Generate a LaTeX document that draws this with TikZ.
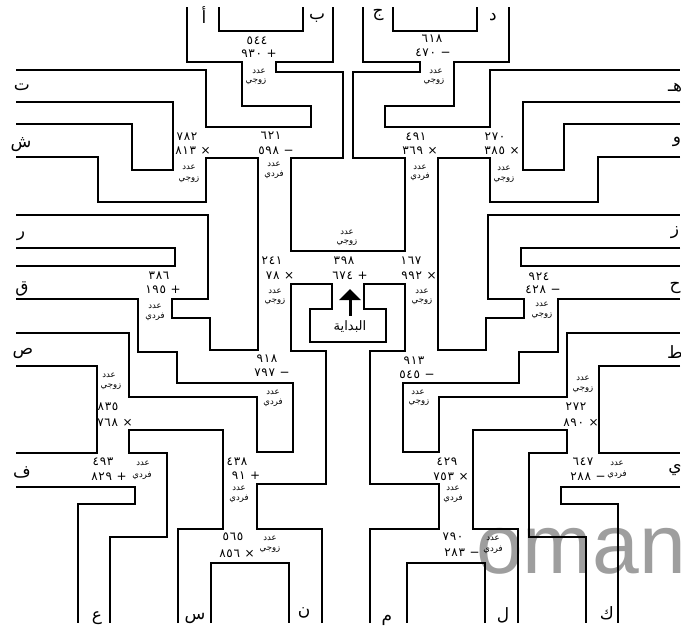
\documentclass[tikz,border=0pt]{standalone}
\usepackage{fontspec}
\usetikzlibrary{arrows.meta}
\TeXXeTstate=1
\newfontfamily\arabicfont[Script=Arabic]{DejaVu Sans}
\newfontfamily\digitfont[LetterSpace=6]{DejaVu Sans}
\newfontfamily\markfont{Liberation Sans}
\tikzset{
  wall/.style={line width=2.4pt},
  num/.style={font=\digitfont\fontsize{12}{14}\selectfont, inner sep=0pt},
  word/.style={font=\arabicfont\fontsize{8.5}{10}\selectfont, inner sep=0pt},
  letter/.style={font=\arabicfont\fontsize{17}{19}\selectfont, inner sep=0pt},
  startarrow/.style={line width=3pt, -{Triangle[width=21pt,length=11pt]}}
}
\begin{document}
\begin{tikzpicture}[x=1pt,y=-1pt]
  \useasboundingbox (0,0) rectangle (681,632);
  \node[font=\markfont\fontsize{84}{90}\selectfont, text=black!38, anchor=base west, inner sep=0pt] (mark) at (476,573) {oman};
  % maze walls, left half and its mirror image
  \foreach \s/\b in {1/322,-1/326} {
    \begin{scope}[shift={(348,0)}, xscale=\s, shift={(-348,0)}]
      \draw[wall] (187,7) -- (187,62) -- (242,62) -- (242,106) -- (311,106) -- (311,127) -- (206,127) -- (206,70) -- (16,70);
      \draw[wall] (219,7) -- (219,31) -- (303,31) -- (303,7);
      \draw[wall] (333,7) -- (333,62) -- (276,62) -- (276,72) -- (343,72) -- (343,158) -- (291,158) -- (291,251) -- (348,251);
      \draw[wall] (16,102) -- (173,102) -- (173,170) -- (132,170) -- (132,124) -- (16,124);
      \draw[wall] (16,157) -- (98,157) -- (98,202) -- (206,202) -- (206,158) -- (258,158) -- (258,350) -- (210,350) -- (210,318) -- (172,318) -- (172,299) -- (208,299) -- (208,215) -- (16,215);
      \draw[wall] (16,248) -- (175,248) -- (175,266) -- (16,266);
      \draw[wall] (16,299) -- (138,299) -- (138,352) -- (177,352) -- (177,383) -- (293,383) -- (293,452) -- (257,452) -- (257,397) -- (129,397) -- (129,333) -- (16,333);
      \draw[wall] (16,366) -- (97,366) -- (97,453) -- (16,453);
      \draw[wall] (16,487) -- (135,487) -- (135,504) -- (78,504) -- (78,623);
      \draw[wall] (178,623) -- (178,529) -- (223,529) -- (223,430) -- (129,430) -- (129,453) -- (167,453) -- (167,537) -- (110,537) -- (110,623);
      \draw[wall] (211,623) -- (211,563) -- (289,563) -- (289,623);
      \draw[wall] (\b,623) -- (\b,529) -- (257,529) -- (257,484) -- (326,484) -- (326,351) -- (291,351) -- (291,284) -- (332,284) -- (332,309) -- (310,309) -- (310,342) -- (348,342);
    \end{scope}
  }
  % start
  \node[inner sep=0pt, font=\arabicfont\fontsize{13}{15}\selectfont] (start) at (350,327) {\beginR البداية\endR};
  \coordinate (arrowtip) at (350,289);
  \draw[startarrow, shorten <=5pt] (start.north) -- (arrowtip);
  % exits
  \foreach \t/\x/\y [count=\i] in {أ/204/15, ب/317/18, ج/378/15, د/493/17, ت/22/87, ش/21/145, ر/21/236, ق/22/289, ص/23/353, ف/22/472, هـ/675/88, و/677/142, ز/675/233, ح/675/288, ط/675/352, ي/675/470, ع/97/618, س/195/618, ن/304/613, م/387/620, ل/503/615, ك/607/613}
    \node[letter] (gate\i) at (\x,\y) {\beginR\t\endR};
  % sums
  \foreach \t/\x/\y [count=\i] in {٥٤٤/257/41, ٧٨٢/187/137, ٦٢١/271/136, ٦١٨/432/39, ٤٩١/416/137, ٢٧٠/495/137, ٣٩٨/344/261, ٢٤١/272/261, ١٦٧/411/261, ٣٨٦/159/276, ٩٢٤/539/277, ٩١٨/267/359, ٩١٣/414/361, ٨٣٥/108/407, ٢٧٢/576/407, ٤٩٣/103/462, ٤٣٨/237/462, ٤٢٩/447/462, ٦٤٧/583/462, ٥٦٥/233/537, ٧٩٠/453/537}
    \node[num] (first\i) at (\x,\y) {\t};
  \foreach \t/\x/\y [count=\i] in {٩٣٠ +/259/54, ٨١٣ ×/193/151, ٥٩٨ −/276/151, ٤٧٠ −/433/53, ٣٦٩ ×/420/151, ٣٨٥ ×/502/151, ٦٧٤ +/350/276, ٧٨ ×/280/276, ٩٩٢ ×/419/276, ١٩٥ +/163/290, ٤٢٨ −/543/290, ٧٩٧ −/272/373, ٥٤٥ −/417/375, ٧٦٨ ×/115/423, ٨٩٠ ×/581/423, ٨٢٩ +/109/477, ٩١ +/246/476, ٧٥٣ ×/451/477, ٢٨٨ −/588/477, ٨٥٦ ×/237/554, ٢٨٣ −/462/553}
    \node[num] (second\i) at (\x,\y) {\t};
  % odd or even
  \foreach \xa/\ya/\xb/\yb/\t [count=\i] in {259/71/256/82/زوجي, 189/167/189/180/زوجي, 274/164/274/175/فردي, 436/71/434/82/زوجي, 420/167/420/177/فردي, 504/168/504/180/زوجي, 347/232/347/243/زوجي, 275/291/275/302/زوجي, 422/291/422/302/زوجي, 155/306/155/317/فردي, 542/304/542/316/زوجي, 273/392/273/403/فردي, 418/392/419/403/زوجي, 109/375/111/387/زوجي, 583/378/583/390/زوجي, 143/463/142/476/فردي, 239/488/239/499/فردي, 453/488/453/499/فردي, 617/463/617/475/فردي, 270/538/270/550/زوجي, 493/538/493/550/فردي} {
    \node[word] (kind\i) at (\xa,\ya) {\beginR عدد\endR};
    \node[word] (parity\i) at (\xb,\yb) {\beginR\t\endR};
  }
\end{tikzpicture}
\end{document}
